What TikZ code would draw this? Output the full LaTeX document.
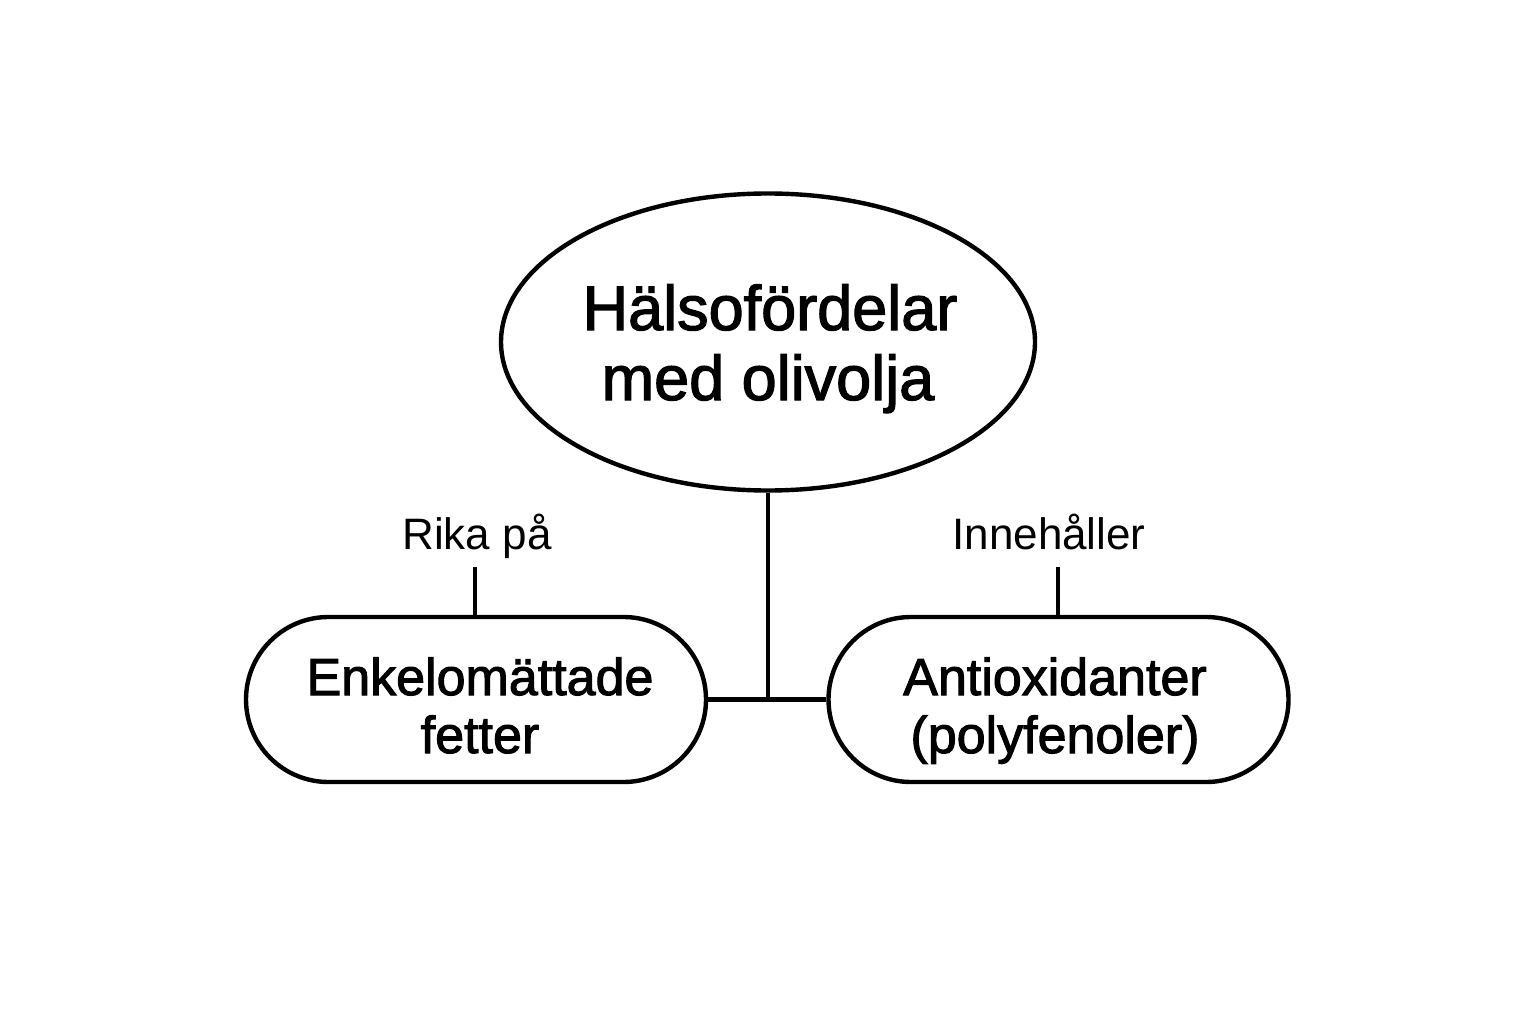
\documentclass[tikz,border=0pt]{standalone}
\usepackage{fontspec}
\setmainfont{Liberation Sans}
\newfontfamily\medfont{Liberation Sans}[FakeBold=2]
\usetikzlibrary{shapes.geometric,shapes.misc}
\begin{document}
\begin{tikzpicture}[x=1pt,y=-1pt,
  shapeline/.style={draw=black,line width=4.4pt},
  pill/.style={shapeline,rounded rectangle,minimum width=460pt,minimum height=165pt,inner sep=0pt},
  titletext/.style={font=\medfont\fontsize{63}{70}\selectfont,anchor=base,inner sep=0pt},
  pilltext/.style={font=\medfont\fontsize{52}{58}\selectfont,anchor=base,inner sep=0pt},
  labeltext/.style={font=\fontsize{44}{50}\selectfont,anchor=base,inner sep=0pt},
  conn/.style={draw=black,line width=4.4pt}]
\useasboundingbox[fill=white] (0,0) rectangle (1536,1024);
% main ellipse
\node[shapeline,ellipse,minimum width=534pt,minimum height=297pt,inner sep=0pt] (main) at (768,342) {};
\node[titletext] (t1) at (770,330) {Hälsofördelar};
\node[titletext] (t2) at (768,400) {med olivolja};
% pills
\node[pill] (left) at (476,699.5) {};
\node[pilltext] (l1) at (480,695) {Enkelomättade};
\node[pilltext] (l2) at (480,753) {fetter};
\node[pill] (right) at (1058.5,699.5) {};
\node[pilltext] (r1) at (1055,695) {Antioxidanter};
\node[pilltext] (r2) at (1055,753) {(polyfenoler)};
% labels
\node[labeltext] (rika) at (477,549) {Rika på};
\node[labeltext] (inne) at (1049,549) {Innehåller};
\coordinate (rikaTop) at (475,567);
\coordinate (inneTop) at (1058,567);
% connectors
\draw[conn] (main.south) -- (main.south |- left.east);
\draw[conn] (left.east) -- (right.west);
\draw[conn] (rikaTop) -- (rikaTop |- left.north);
\draw[conn] (inneTop) -- (inneTop |- right.north);
\end{tikzpicture}
\end{document}
